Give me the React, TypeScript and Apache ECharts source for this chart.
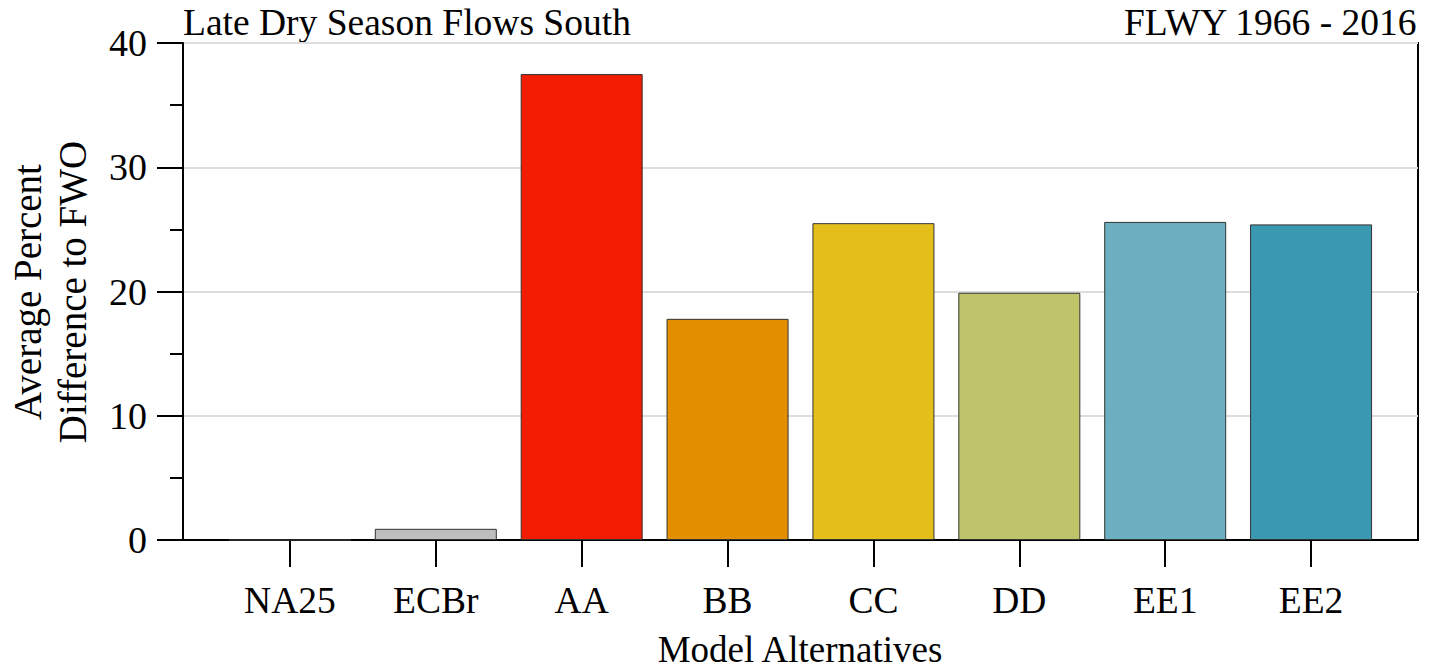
import React, { useEffect, useRef } from "react";
import * as echarts from "echarts";

// Alternatives along the x axis, in plotting order
const alternatives = ["NA25", "ECBr", "AA", "BB", "CC", "DD", "EE1", "EE2"];
// Average percent difference to FWO for each alternative
const pctDifference = [0, 0.9, 37.5, 17.8, 25.5, 19.9, 25.6, 25.4];
// Fill colour for each alternative's bar
const barColors = [
  "#bebebe",
  "#bebebe",
  "#f21c00",
  "#e38f00",
  "#e4bf1c",
  "#bfc46a",
  "#6cafc0",
  "#3b98b1",
];
const yTicks = [0, 10, 20, 30, 40];
const positions = alternatives.map((_, i) => i + 1);

const FONT = '"Liberation Serif", "Times New Roman", serif';

export default function App() {
  const ref = useRef<HTMLDivElement>(null);

  useEffect(() => {
    if (!ref.current) return;
    const chart = echarts.init(ref.current, undefined, { renderer: "svg" });

    chart.setOption({
      animation: false,
      backgroundColor: "#ffffff",
      grid: {
        left: 183,
        right: 11,
        top: 43,
        bottom: 131,
        show: true,
        borderColor: "#000",
        borderWidth: 2,
        containLabel: false,
      },
      xAxis: {
        type: "value",
        min: 0.267,
        max: 8.733,
        axisLine: { show: true, lineStyle: { color: "#000", width: 2 } },
        axisTick: {
          show: true,
          customValues: positions,
          length: 27,
          inside: false,
          lineStyle: { color: "#000", width: 2 },
        },
        axisLabel: {
          customValues: positions,
          formatter: (v: number) => alternatives[Math.round(v) - 1] ?? "",
          margin: 41,
          color: "#000",
          fontFamily: FONT,
          fontSize: 37.5,
        },
        splitLine: { show: false },
      },
      yAxis: {
        type: "value",
        min: yTicks[0],
        max: yTicks[yTicks.length - 1],
        interval: 10,
        axisLine: { show: true, lineStyle: { color: "#000", width: 2 } },
        axisTick: {
          show: true,
          length: 26,
          inside: false,
          lineStyle: { color: "#000", width: 2 },
        },
        minorTick: {
          show: true,
          splitNumber: 2,
          length: 13,
          lineStyle: { color: "#000", width: 2 },
        },
        axisLabel: {
          margin: 36,
          color: "#000",
          fontFamily: FONT,
          fontSize: 38,
        },
        splitLine: { show: true, lineStyle: { color: "#dddddd", width: 2 } },
      },
      series: [
        {
          type: "bar",
          barWidth: 122,
          data: pctDifference.map((v, i) => ({
            value: [positions[i], v],
            itemStyle: {
              color: barColors[i],
              borderColor: "#333",
              borderWidth: 1,
            },
          })),
        },
      ],
      graphic: [
        {
          type: "text",
          left: 183,
          top: 3,
          style: {
            text: "Late Dry Season Flows South",
            fontFamily: FONT,
            fontSize: 37.5,
            fill: "#000",
          },
        },
        {
          type: "text",
          right: 11,
          top: 3,
          style: {
            text: "FLWY 1966 - 2016",
            fontFamily: FONT,
            fontSize: 37.5,
            fill: "#000",
          },
        },
        {
          type: "text",
          x: 50,
          y: 292,
          rotation: Math.PI / 2,
          style: {
            text: "Average Percent\nDifference to FWO",
            fontFamily: FONT,
            fontSize: 39,
            lineHeight: 45,
            fill: "#000",
            align: "center",
            verticalAlign: "middle",
          },
        },
        {
          type: "text",
          x: 800,
          y: 649,
          style: {
            text: "Model Alternatives",
            fontFamily: FONT,
            fontSize: 37,
            fill: "#000",
            align: "center",
            verticalAlign: "middle",
          },
        },
      ],
    });

    return () => chart.dispose();
  }, []);

  return (
    <div
      ref={ref}
      style={{ position: "fixed", left: 0, top: 0, width: 1429, height: 671 }}
    />
  );
}
